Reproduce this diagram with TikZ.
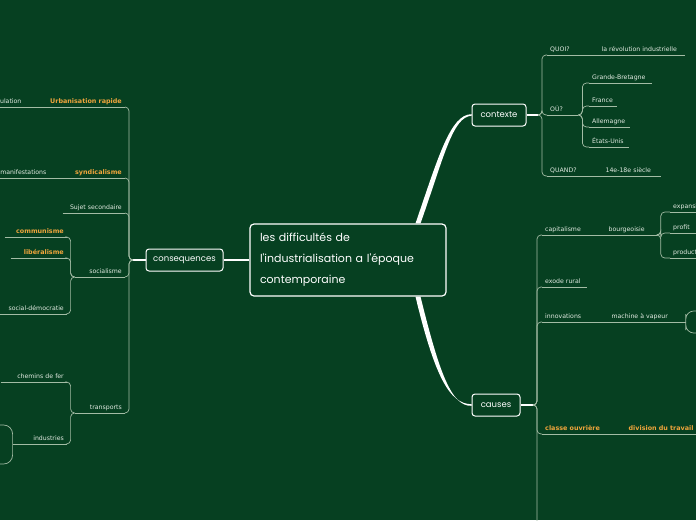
\documentclass[tikz,border=0pt]{standalone}
\usepackage{fontspec}
\setmainfont{DejaVu Sans}
\newfontfamily\handfont{Poppins}
\usepackage{xcolor}
\usetikzlibrary{calc}
\definecolor{board}{HTML}{064021}
\definecolor{wirecol}{HTML}{A3BCA5}
\definecolor{labelcol}{HTML}{E2EBE2}
\definecolor{hot}{HTML}{EFA53C}
\tikzset{
  mainbox/.style={draw=white,line width=1.2pt,rounded corners=4pt,fill=board,text=white,
    font=\handfont\fontsize{11}{21}\selectfont,align=left,text width=176pt,inner xsep=10pt,
    minimum height=72pt},
  topicbox/.style={draw=white,line width=1pt,rounded corners=3pt,fill=board,text=white,
    font=\handfont\fontsize{8.5}{10}\selectfont,minimum height=22pt,inner sep=0pt},
  wire/.style={draw=wirecol,line width=0.7pt,rounded corners=4pt},
  stem/.style={draw=white,line width=1.3pt},
  underline/.style={append after command={(\tikzlastnode.south west) edge[wire] (\tikzlastnode.south east)}},
  rtopic/.style={anchor=south west,text=labelcol,font=\fontsize{6.2}{7}\selectfont,inner xsep=3pt,
    inner ysep=2pt,text height=5pt,text depth=1.5pt,align=left,text width=#1,underline},
  ltopic/.style={anchor=south east,text=labelcol,font=\fontsize{6.2}{7}\selectfont,inner xsep=3pt,
    inner ysep=2pt,text height=5pt,text depth=1.5pt,align=right,text width=#1,underline},
  hotlabel/.style={text=hot,font=\bfseries\fontsize{6.4}{7}\selectfont}
}
\begin{document}
\begin{tikzpicture}[x=1pt,y=-1pt]
  \useasboundingbox (0,0) rectangle (696,520);
  \clip (0,0) rectangle (696,520);
  \fill[board] (0,0) rectangle (696,520);

  \node[mainbox] (main) at (348,260) {les difficultés de\\l'industrialisation a l'époque\\contemporaine};
  \node[topicbox,minimum width=54pt] (contexte) at (499,115) {contexte};
  \node[topicbox,minimum width=48pt] (causes) at (496,405) {causes};
  \node[topicbox,minimum width=77pt] (consequences) at (184.5,260) {consequences};

  \fill[white] ($(main.north)+(67.5,0)$) .. controls +(23,-67) and +(-21,0) .. ($(contexte.west)+(0,-0.8)$)
    -- ($(contexte.west)+(0,0.8)$) .. controls +(-19,0.7) and +(23,-65) .. ($(main.north)+(72.5,0)$) -- cycle;
  \fill[white] ($(main.south)+(67.5,0)$) .. controls +(19,79) and +(-22,0) .. ($(causes.west)+(0,-0.8)$)
    -- ($(causes.west)+(0,0.8)$) .. controls +(-20,0.7) and +(19,77) .. ($(main.south)+(72.5,0)$) -- cycle;
  \draw[stem] (main.west) -- (consequences.east);

  % contexte
  \coordinate (cxb) at (538,115);
  \draw[stem] (contexte.east) -- (cxb);
  \node[rtopic=45pt] (quoi) at (547,55) {QUOI?};
  \node[rtopic=80pt] (revol) at (quoi.south east) {la révolution industrielle};
  \node[rtopic=25pt] (ou) at (547,115) {OÙ?};
  \node[rtopic=49pt] (quand) at (547,176) {QUAND?};
  \node[rtopic=52pt] (siecle) at (quand.south east) {14e-18e siècle};
  \foreach \n in {quoi,ou,quand}
    \draw[wire] (cxb) -- ++(4,0) |- (\n.south west);
  \foreach \n/\t/\y/\w in {gb/Grande-Bretagne/83/57pt,fr/France/106/22pt,al/Allemagne/127/35pt,eu/États-Unis/147/34pt}{
    \node[rtopic=\w] (\n) at (589,\y) {\t};
    \draw[wire] (ou.south east) -- ++(4,0) |- (\n.south west);
  }

  % causes
  \coordinate (cb) at (533,405);
  \coordinate (cz) at (542,560);
  \draw[stem] (causes.east) -- (cb);
  \node[rtopic=57pt] (capit) at (542,235) {capitalisme};
  \node[rtopic=45pt] (bourg) at (capit.south east) {bourgeoisie};
  \node[rtopic=39pt] (exode) at (542,287) {exode rural};
  \node[rtopic=60pt] (innov) at (542,322) {innovations};
  \node[rtopic=68pt] (machine) at (innov.south east) {machine à vapeur};
  \node[rtopic=77pt,hotlabel] (classe) at (542,434) {classe ouvrière};
  \node[rtopic=80pt,hotlabel] (division) at (classe.south east) {division du travail};
  \foreach \n in {capit,exode,innov,classe}
    \draw[wire] (cb) -- ++(4,0) |- (\n.south west);
  \draw[wire] (cb) -- ++(4,0) |- (cz);
  \foreach \n/\t/\y in {expan/expansion/212,profit/profit/233,produit/production/258}{
    \node[rtopic=60pt] (\n) at (670,\y) {\t};
    \draw[wire] (bourg.south east) -- ++(4,0) |- (\n.south west);
  }
  \coordinate (mv1) at (720,311);
  \coordinate (mv2) at (720,333);
  \draw[wire,rounded corners=8pt] (mv1) -| ($(machine.south east)+(3,0)$) |- (mv2);
  \draw[wire] (machine.south east) -- ++(3,0);

  % consequences
  \coordinate (qb) at (133,260);
  \draw[stem] (consequences.west) -- (qb);
  \node[ltopic=94pt,hotlabel] (urb) at (125,107) {Urbanisation rapide};
  \node[ltopic=50pt] (popu) at (urb.south west) {population};
  \node[ltopic=69pt,hotlabel] (synd) at (125,178) {syndicalisme};
  \node[ltopic=60pt] (manif) at (synd.south west) {manifestations};
  \node[ltopic=56pt] (sujet) at (125,213) {Sujet secondaire};
  \node[ltopic=44pt] (social) at (125,277) {socialisme};
  \node[ltopic=44pt] (transp) at (125,413) {transports};
  \foreach \n in {urb,synd,sujet,social,transp}
    \draw[wire] (qb) -- ++(-4,0) |- (\n.south east);
  \node[ltopic=56pt,hotlabel] (comm) at (67,237) {communisme};
  \node[ltopic=50pt,hotlabel] (lib) at (67,258) {libéralisme};
  \node[ltopic=61pt] (sd) at (67,314) {social-démocratie};
  \foreach \n in {comm,lib,sd}
    \draw[wire] (social.south west) -- ++(-4,0) |- (\n.south east);
  \node[ltopic=60pt] (chem) at (67,382) {chemins de fer};
  \node[ltopic=46pt] (indus) at (67,444) {industries};
  \foreach \n in {chem,indus}
    \draw[wire] (transp.south west) -- ++(-4,0) |- (\n.south east);
  \coordinate (in1) at (-20,425);
  \coordinate (in2) at (-20,464);
  \draw[wire,rounded corners=9pt] (in1) -| ($(indus.south west)+(-2,0)$) |- (in2);
  \draw[wire] (indus.south west) -- ++(-2,0);
\end{tikzpicture}
\end{document}
